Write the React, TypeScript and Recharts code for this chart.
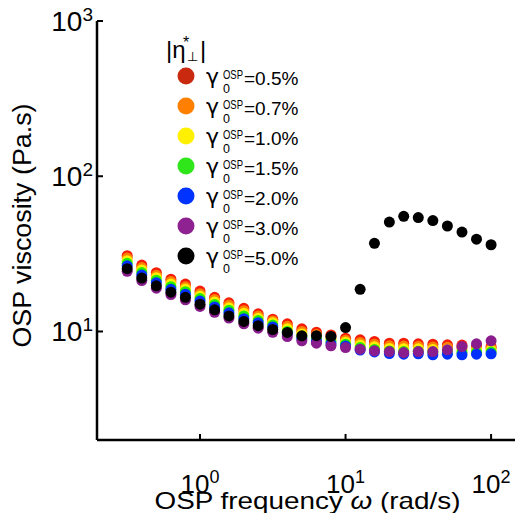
import React from 'react';
import { ScatterChart, Scatter, XAxis, YAxis, Legend } from 'recharts';

// OSP frequency sweep (rad/s), 10 points per decade
const FREQ = [0.316, 0.398, 0.501, 0.631, 0.794, 1.0, 1.26, 1.58, 2.0, 2.51, 3.16, 3.98, 5.01, 6.31, 7.94, 10.0, 12.6, 15.8, 20.0, 25.1, 31.6, 39.8, 50.1, 63.1, 79.4, 100];

// |eta*_perp| (Pa.s) for each OSP strain amplitude
const ETA_05 = [30.8, 26.8, 23.9, 21.7, 20.2, 18.2, 16.6, 15.3, 14.1, 13.0, 12.0, 11.2, 10.4, 9.9, 9.5, 9.06, 8.84, 8.62, 8.41, 8.41, 8.33, 8.28, 8.21, 8.18, 8.06, 8.0];
const ETA_07 = [29.7, 25.8, 23.0, 21.0, 19.45, 17.5, 16.1, 14.8, 13.6, 12.6, 11.7, 10.8, 10.0, 9.56, 9.2, 8.79, 8.5, 8.29, 8.09, 8.06, 8.02, 7.95, 7.92, 7.88, 7.81, 7.79];
const ETA_10 = [28.6, 24.9, 22.2, 20.2, 18.75, 16.9, 15.5, 14.2, 13.1, 12.15, 11.4, 10.4, 9.65, 9.26, 8.91, 8.54, 8.19, 7.96, 7.78, 7.75, 7.73, 7.65, 7.65, 7.61, 7.59, 7.58];
const ETA_15 = [27.5, 23.95, 21.4, 19.45, 18.06, 16.3, 14.95, 13.7, 12.6, 11.76, 11.0, 10.0, 9.3, 8.95, 8.61, 8.29, 7.88, 7.66, 7.49, 7.43, 7.45, 7.35, 7.38, 7.33, 7.35, 7.37];
const ETA_20 = [26.5, 23.1, 20.6, 18.7, 17.4, 15.7, 14.4, 13.2, 12.1, 11.4, 10.7, 9.64, 8.97, 8.66, 8.33, 8.06, 7.6, 7.38, 7.21, 7.14, 7.18, 7.08, 7.14, 7.08, 7.14, 7.18];
const ETA_30 = [24.4, 21.3, 19.0, 17.3, 16.0, 14.5, 13.3, 12.2, 11.2, 10.5, 9.88, 9.28, 8.71, 8.41, 8.09, 7.88, 7.69, 7.51, 7.43, 7.32, 7.43, 7.43, 7.62, 8.0, 8.33, 8.71];
const ETA_50 = [25.4, 22.1, 19.7, 17.9, 16.6, 15.0, 13.8, 12.6, 11.6, 10.9, 10.3, 9.86, 9.38, 9.4, 9.3, 10.6, 18.7, 37.0, 50.7, 55.2, 54.2, 51.8, 47.8, 43.7, 39.3, 36.2];

const STRAINS = ['0.5', '0.7', '1.0', '1.5', '2.0', '3.0', '5.0'];
const DOT_COLORS = ['#f41c06', '#ff8000', '#ffee00', '#22ee00', '#0030ff', '#8a1d8e', '#000000'];
const LEGEND_COLORS = ['#c9290f', '#ff8000', '#fff000', '#2ee61a', '#0033ff', '#8e2291', '#000000'];
const SERIES = [ETA_05, ETA_07, ETA_10, ETA_15, ETA_20, ETA_30, ETA_50];

const X_TICKS = [1, 10, 100];
const Y_TICKS = [10, 100, 1000];

const FONT = '"Liberation Sans", Arial, "DejaVu Sans", sans-serif';
const GREEK = '"DejaVu Sans", "Liberation Sans", sans-serif';

const CHART_H = 513;
const X_AXIS_H = 73;
const AXIS_Y = CHART_H - X_AXIS_H; // bottom edge of the plot

const expOf = (v: number) => String(Math.round(Math.log10(v)));

const XTick = (props: any) => {
  const { x, payload } = props;
  return (
    <g>
      <line x1={x} x2={x} y1={AXIS_Y} y2={AXIS_Y - 6} stroke="#000" strokeWidth={2} />
      <text x={x} y={AXIS_Y + 53} textAnchor="middle" fontSize={26} fontFamily={FONT} fill="#000">
        10<tspan dy={-10} fontSize={18}>{expOf(payload.value)}</tspan>
      </text>
    </g>
  );
};

const YTick = (props: any) => {
  const { x, y, payload } = props;
  return (
    <g>
      <line x1={x} x2={x + 6} y1={y} y2={y} stroke="#000" strokeWidth={2} />
      <text x={x - 4} y={y + 10} textAnchor="end" fontSize={28} fontFamily={FONT} fill="#000">
        10<tspan dy={-10} fontSize={19}>{expOf(payload.value)}</tspan>
      </text>
    </g>
  );
};

const dot = (color: string) => (props: any) =>
  <circle cx={props.cx} cy={props.cy} r={5.5} fill={color} />;

const LegendBox = () => (
  <svg width={515} height={300} style={{ display: 'block' }}>
    <text x={166} y={58} fontSize={24} fontFamily={FONT} fill="#000">|η</text>
    <text x={183} y={48} fontSize={16} fontFamily={FONT} fill="#000">*</text>
    <text x={187} y={61} fontSize={13} fontFamily={GREEK} fill="#000">⊥</text>
    <text x={200} y={58} fontSize={24} fontFamily={FONT} fill="#000">|</text>
    {STRAINS.map((s, i) => {
      const yc = 76 + i * 30;
      return (
        <g key={s}>
          <circle cx={186} cy={yc} r={8.5} fill={LEGEND_COLORS[i]} />
          <text x={206} y={yc + 8} fontSize={22} fontFamily={GREEK} fill="#000">γ</text>
          <text x={223} y={yc + 3} fontSize={12} fontFamily={FONT} fill="#000" textLength={20} lengthAdjust="spacingAndGlyphs">OSP</text>
          <text x={223} y={yc + 17} fontSize={12.5} fontFamily={FONT} fill="#000">0</text>
          <text x={244} y={yc + 9} fontSize={19} fontFamily={FONT} fill="#000">={s}%</text>
        </g>
      );
    })}
  </svg>
);

const XTitle = (props: any) => {
  const { viewBox } = props;
  return (
    <text x={viewBox.x + viewBox.width / 2 - 1} y={AXIS_Y + 69} textAnchor="middle" fontSize={24} fontFamily={FONT} fill="#000" textLength={306} lengthAdjust="spacingAndGlyphs">
      OSP frequency <tspan fontStyle="italic">ω</tspan> (rad/s)
    </text>
  );
};

const YTitle = (props: any) => {
  const { viewBox } = props;
  const cy = viewBox.y + viewBox.height / 2 - 5;
  return (
    <text transform={`translate(31, ${cy}) rotate(-90)`} textAnchor="middle" fontSize={26} fontFamily={FONT} fill="#000" textLength={244} lengthAdjust="spacingAndGlyphs">
      OSP viscosity (Pa.s)
    </text>
  );
};

export default function App() {
  return (
    <div style={{ position: 'absolute', left: 0, top: 0, width: 515, height: 513, overflow: 'hidden', background: '#fff' }}>
      <ScatterChart width={530} height={CHART_H} margin={{ top: 21, right: 10, left: 0, bottom: 0 }}>
        <XAxis
          dataKey="x"
          type="number"
          scale="log"
          domain={[0.196, 158]}
          allowDataOverflow
          ticks={X_TICKS}
          height={X_AXIS_H}
          tickSize={0}
          tickMargin={0}
          tickLine={false}
          tick={<XTick />}
          axisLine={{ stroke: '#000', strokeWidth: 2.5 }}
          label={<XTitle />}
        />
        <XAxis
          xAxisId="top"
          orientation="top"
          dataKey="x"
          type="number"
          scale="log"
          domain={[0.196, 158]}
          allowDataOverflow
          height={0}
          tick={false}
          tickLine={false}
          axisLine={{ stroke: '#000', strokeWidth: 2.5 }}
        />
        <YAxis
          dataKey="y"
          type="number"
          scale="log"
          domain={[2, 1000]}
          allowDataOverflow
          ticks={Y_TICKS}
          width={97}
          tickSize={0}
          tickMargin={0}
          tickLine={false}
          tick={<YTick />}
          axisLine={{ stroke: '#000', strokeWidth: 2.5 }}
          label={<YTitle />}
        />
        <Legend
          layout="vertical"
          align="center"
          verticalAlign="middle"
          wrapperStyle={{ position: 'absolute', left: 0, top: 0, width: 515, height: 300 }}
          content={() => <LegendBox />}
        />
        {SERIES.map((vals, i) => (
          <Scatter
            key={STRAINS[i]}
            name={`γ0=${STRAINS[i]}%`}
            data={FREQ.map((f, k) => ({ x: f, y: vals[k] }))}
            fill={DOT_COLORS[i]}
            shape={dot(DOT_COLORS[i])}
            isAnimationActive={false}
          />
        ))}
      </ScatterChart>
    </div>
  );
}
